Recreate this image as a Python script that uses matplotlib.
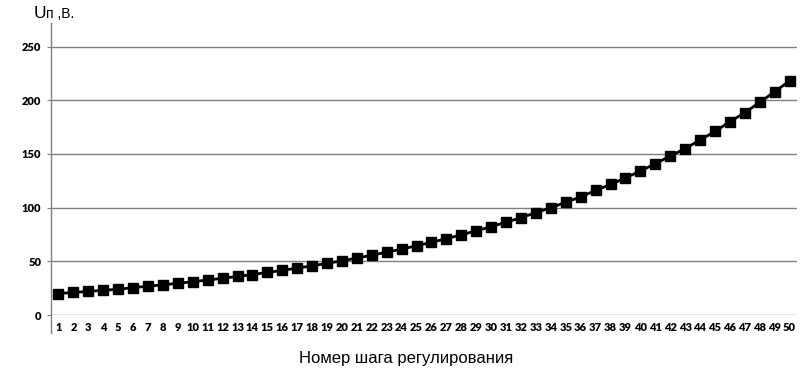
import matplotlib
matplotlib.use("Agg")
import matplotlib.pyplot as plt
from matplotlib.lines import Line2D

# regulation steps and voltage
steps = list(range(1, 51))
voltage = [20, 21, 22, 23, 24, 25.5, 26.8, 28.1, 29.5, 31,
           32.6, 34.2, 35.9, 37.7, 39.6, 41.6, 43.7, 45.8, 48.1, 50.5,
           53, 55.7, 58.5, 61.4, 64.5, 67.7, 71.1, 74.7, 78.4, 82.3,
           86.4, 90.7, 95.3, 100, 105, 110, 116, 121.6, 127.7, 134,
           141, 148, 155, 163, 171, 180, 188.5, 198, 208, 218]
y_ticks = [0, 50, 100, 150, 200, 250]

fig = plt.figure(figsize=(8, 3.79), dpi=100)
ax = fig.add_axes([51 / 800, 1 - 315 / 379, 746 / 800, 292 / 379])

for v in y_ticks:
    ax.axhline(v, color="#808080", lw=1, zorder=1)

ax.plot(steps, voltage, color="black", lw=2, marker="s", markersize=7, zorder=3)

ax.set_xlim(0.5, 50.5)
ax.set_ylim(0, 272)
ax.set_yticks(y_ticks)
ax.set_xticks(steps)
for s in ax.spines.values():
    s.set_visible(False)

# left axis line runs below the zero line down to the tick labels
ax.add_line(Line2D([0, 0], [-18 / 292, 1], transform=ax.transAxes,
                   color="#808080", lw=1, clip_on=False))

ax.tick_params(axis="y", length=3, color="#808080", pad=4, labelsize=8)
ax.tick_params(axis="x", length=0, pad=5, labelsize=8)
for lab in ax.get_xticklabels() + ax.get_yticklabels():
    lab.set_fontfamily("Lato")
    lab.set_fontweight("heavy")

fig.text(406 / 800, 1 - 358 / 379, "Номер шага регулирования",
         ha="center", va="center", fontsize=12, family="Liberation Sans")

fig.text(34 / 800, 1 - 18 / 379, "U", ha="left", va="baseline",
         fontsize=12.5, family="Liberation Sans")
fig.text(46.5 / 800, 1 - 18 / 379, "п ,В.", ha="left", va="baseline",
         fontsize=10, family="Liberation Sans")

fig.savefig("out.png", dpi=100)
